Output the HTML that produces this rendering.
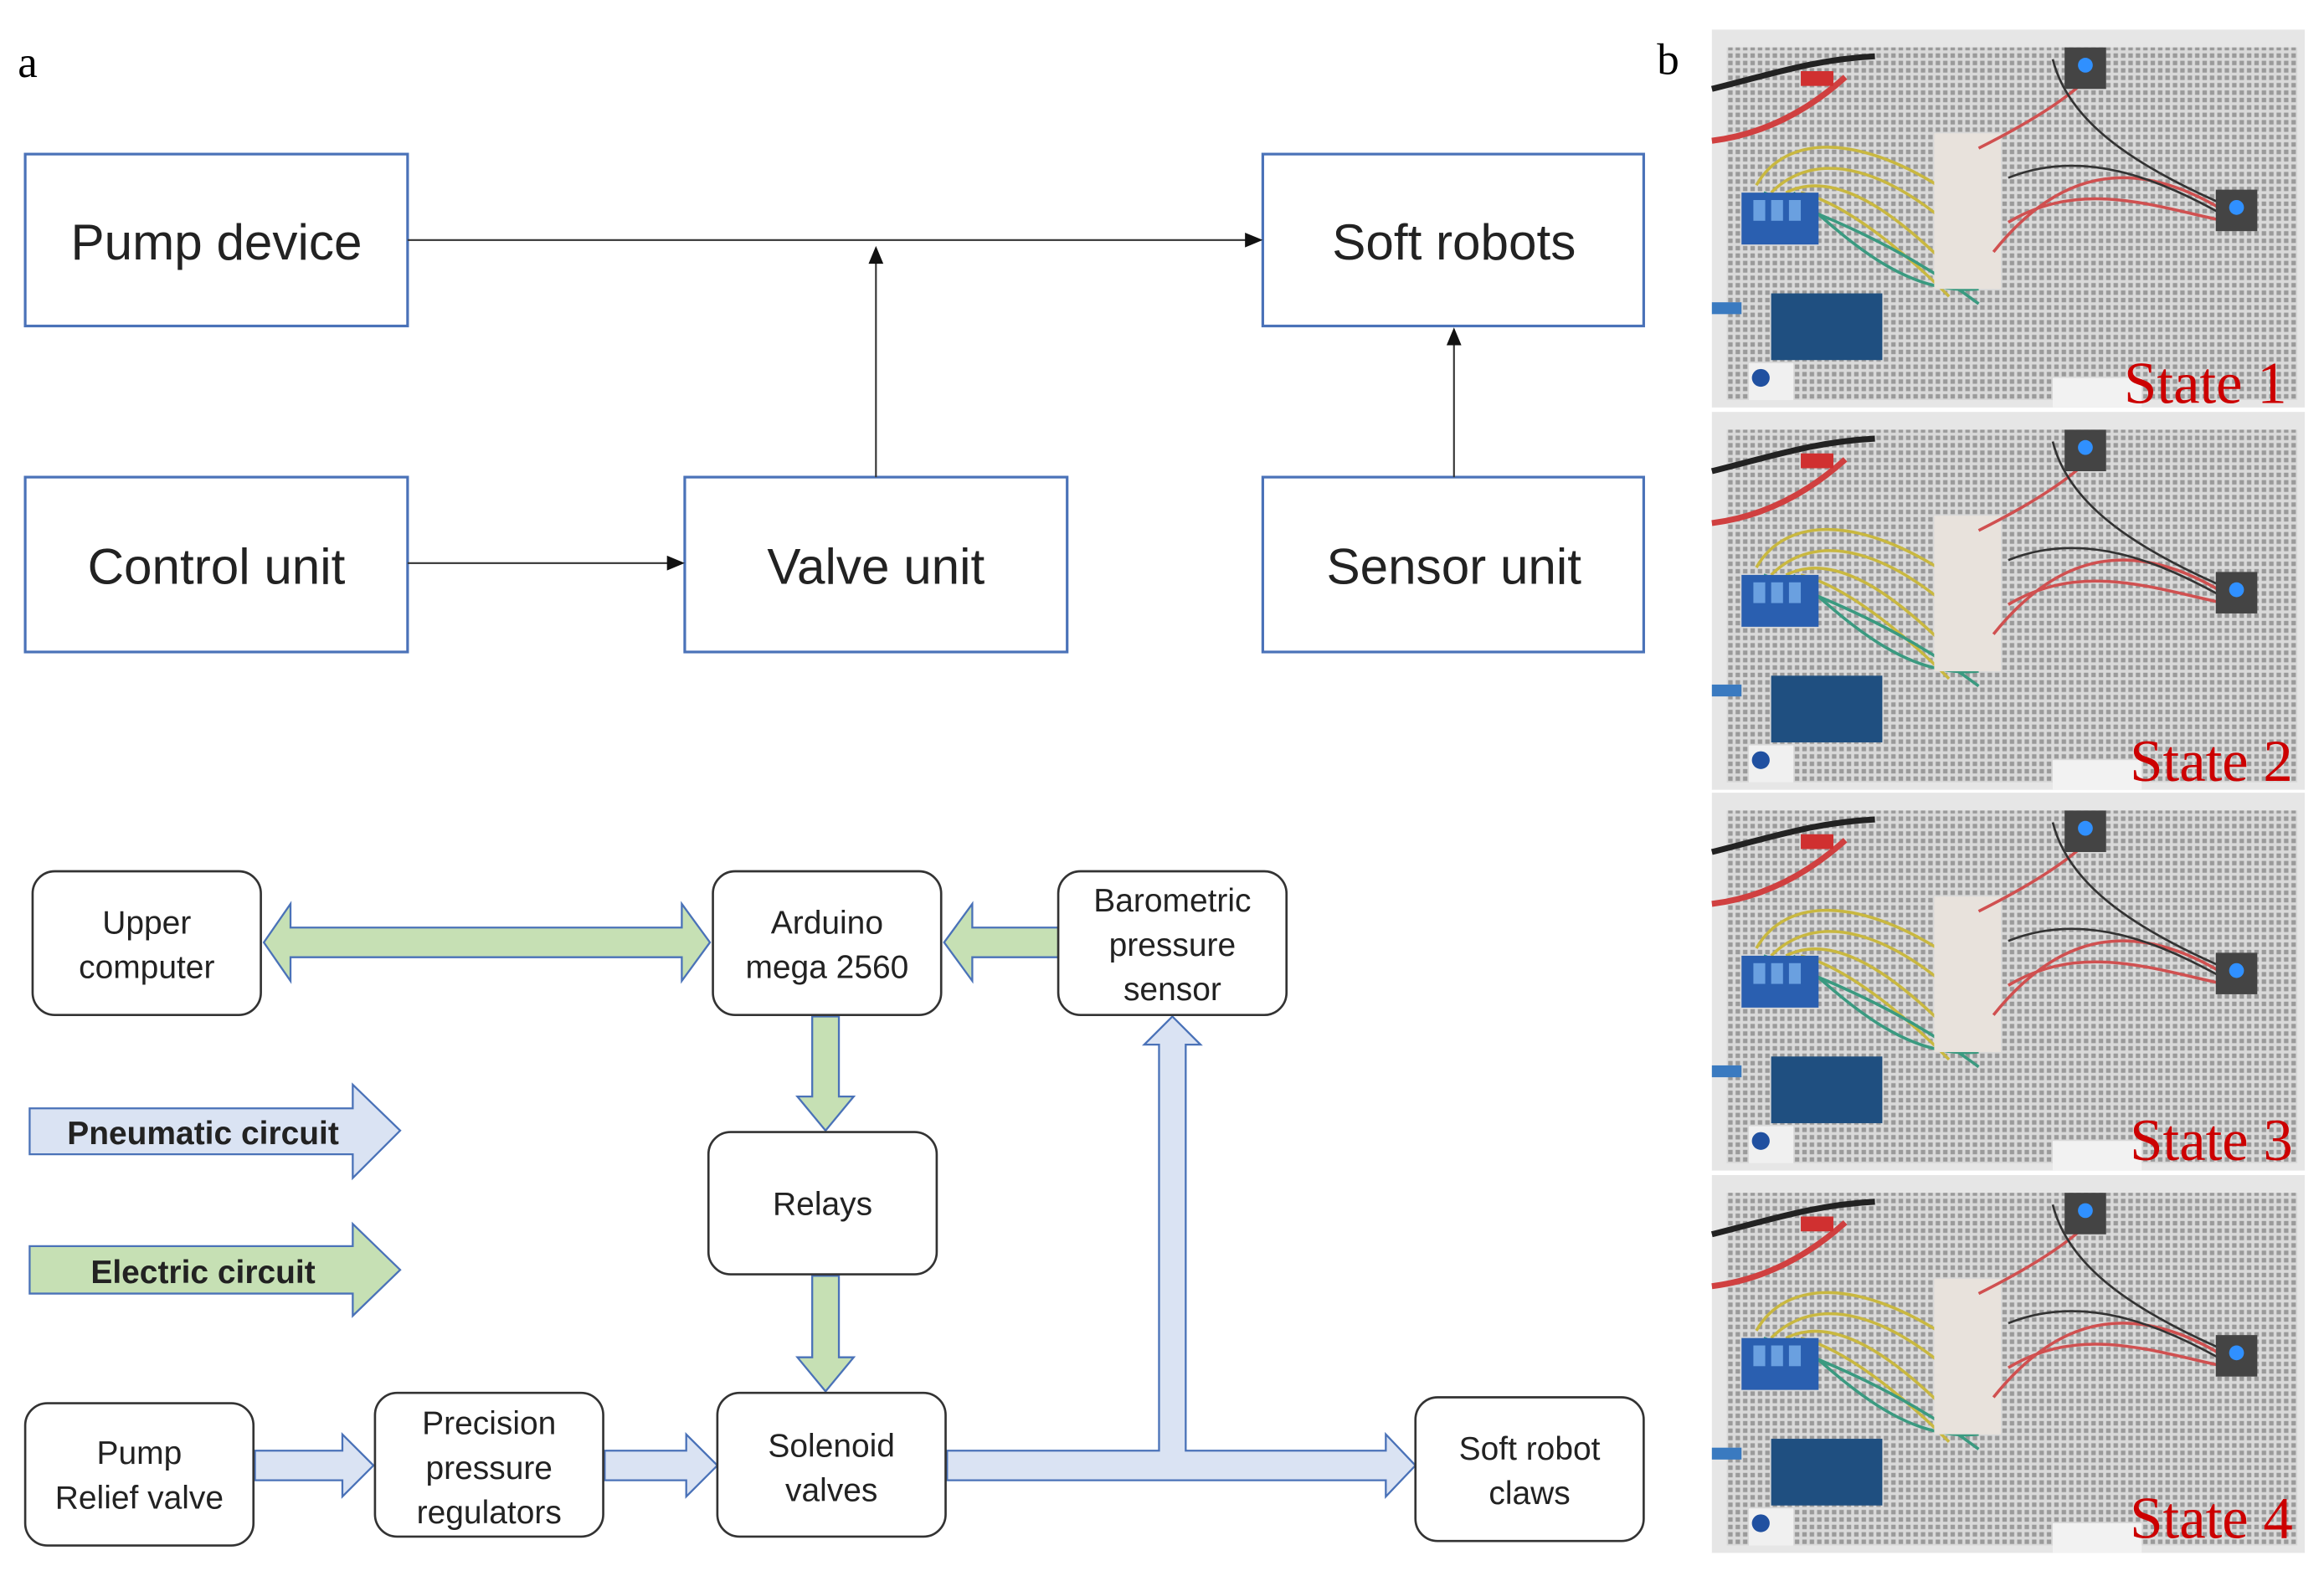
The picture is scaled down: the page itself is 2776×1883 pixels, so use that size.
<!DOCTYPE html>
<html><head><meta charset="utf-8"><style>
html,body{margin:0;padding:0;background:#fff;}
svg{display:block;}
.t{font-family:"Liberation Sans",sans-serif;fill:#222;text-anchor:middle;}
.s{font-family:"Liberation Serif",serif;}
</style></head><body>
<svg width="2776" height="1883" viewBox="0 0 1568 1063.6" xmlns="http://www.w3.org/2000/svg">
<defs>
<pattern id="peg" width="5" height="5" patternUnits="userSpaceOnUse">
<rect width="5" height="5" fill="#d9d9d9"/><rect x="1" y="1" width="3" height="3" fill="#9a9a9a"/>
</pattern>
<g id="photo">
<rect x="0" y="0" width="400" height="255" fill="#e6e6e6"/>
<rect x="10" y="12" width="385" height="238" fill="url(#peg)"/>
<path d="M0 40 C40 30 70 20 110 18" stroke="#222" stroke-width="4" fill="none"/>
<path d="M0 75 C40 70 70 50 90 32" stroke="#d04040" stroke-width="4" fill="none"/>
<rect x="60" y="28" width="22" height="10" fill="#d03030"/>
<path d="M30 105 C50 70 100 70 160 110 M40 110 C70 80 120 90 180 150 M50 110 C90 90 140 140 170 170 M60 110 C100 120 150 170 160 180" stroke="#c9b840" stroke-width="2" fill="none"/>
<path d="M35 110 C60 120 120 140 180 185 M55 110 C90 140 130 180 180 175" stroke="#3a9a80" stroke-width="2" fill="none"/>
<rect x="150" y="70" width="45" height="105" fill="#e8e2dc"/>
<path d="M180 80 C220 60 250 40 260 25 M190 150 C230 100 280 80 350 125 M200 130 C250 100 300 120 350 130" stroke="#d05050" stroke-width="2" fill="none"/>
<path d="M230 20 C240 60 280 90 350 120 M200 100 C250 80 300 100 345 125" stroke="#333" stroke-width="1.5" fill="none"/>
<rect x="20" y="110" width="52" height="35" fill="#2a5fb0"/>
<rect x="28" y="115" width="8" height="14" fill="#6aa0e0"/><rect x="40" y="115" width="8" height="14" fill="#6aa0e0"/><rect x="52" y="115" width="8" height="14" fill="#6aa0e0"/>
<rect x="40" y="178" width="75" height="45" fill="#1f4f80"/>
<rect x="0" y="184" width="20" height="8" fill="#3a7ac0"/>
<rect x="25" y="225" width="30" height="25" fill="#f0f0f0"/>
<circle cx="33" cy="235" r="6" fill="#2050a0"/>
<rect x="238" y="12" width="28" height="28" fill="#444"/><circle cx="252" cy="24" r="5" fill="#3090ff"/>
<rect x="340" y="108" width="28" height="28" fill="#444"/><circle cx="354" cy="120" r="5" fill="#3090ff"/>
<rect x="230" y="235" width="60" height="20" fill="#f2f2f2"/>
</g>
</defs>
<rect width="1568" height="1064" fill="#fff"/>
<text x="12" y="52" class="s" font-size="30" fill="#000">a</text>
<text x="1118" y="50" class="s" font-size="30" fill="#000">b</text>

<!-- top diagram -->
<g fill="#fff" stroke="#4a72b8" stroke-width="1.8">
<rect x="17" y="104" width="258" height="116"/>
<rect x="852" y="104" width="257" height="116"/>
<rect x="17" y="322" width="258" height="118"/>
<rect x="462" y="322" width="258" height="118"/>
<rect x="852" y="322" width="257" height="118"/>
</g>
<g class="t" font-size="34">
<text x="146" y="175">Pump device</text>
<text x="981" y="175">Soft robots</text>
<text x="146" y="394">Control unit</text>
<text x="591" y="394">Valve unit</text>
<text x="981" y="394">Sensor unit</text>
</g>
<g stroke="#333" stroke-width="1.2" fill="none">
<line x1="275" y1="162" x2="842" y2="162"/>
<line x1="591" y1="322" x2="591" y2="176"/>
<line x1="275" y1="380" x2="452" y2="380"/>
<line x1="981" y1="322" x2="981" y2="232"/>
</g>
<g fill="#111">
<polygon points="852,162 840,157 840,167"/>
<polygon points="591,166 586,178 596,178"/>
<polygon points="462,380 450,375 450,385"/>
<polygon points="981,221 976,233 986,233"/>
</g>

<!-- bottom arrows -->
<g stroke="#4a72b8" stroke-width="1.3">
<polygon fill="#c6e0b4" points="178,636 196,610 196,626 460,626 460,610 479,636 460,662 460,646 196,646 196,662"/>
<polygon fill="#c6e0b4" points="637,636 656,610 656,626 714,626 714,646 656,646 656,662"/>
<polygon fill="#c6e0b4" points="548,686 566,686 566,740 576,740 557,763 538,740 548,740"/>
<polygon fill="#c6e0b4" points="548,861 566,861 566,916 576,916 557,939 538,916 548,916"/>
<polygon fill="#dae3f3" points="20,748 238,748 238,732 270,763 238,795 238,779 20,779"/>
<polygon fill="#c6e0b4" points="20,841 238,841 238,826 270,857 238,888 238,873 20,873"/>
<polygon fill="#dae3f3" points="172,979 231,979 231,968 252,989 231,1010 231,999 172,999"/>
<polygon fill="#dae3f3" points="408,979 463,979 463,968 484,989 463,1010 463,999 408,999"/>
<polygon fill="#dae3f3" points="639,979 782,979 782,705 772,705 791,686 810,705 800,705 800,979 935,979 935,968 955,989 935,1010 935,999 639,999"/>
</g>
<g fill="#fff" stroke="#333" stroke-width="1.5">
<rect x="22" y="588" width="154" height="97" rx="15"/>
<rect x="481" y="588" width="154" height="97" rx="15"/>
<rect x="714" y="588" width="154" height="97" rx="15"/>
<rect x="478" y="764" width="154" height="96" rx="15"/>
<rect x="17" y="947" width="154" height="96" rx="15"/>
<rect x="253" y="940" width="154" height="97" rx="15"/>
<rect x="484" y="940" width="154" height="97" rx="15"/>
<rect x="955" y="943" width="154" height="97" rx="15"/>
</g>
<g class="t" font-size="22" fill="#333">
<text x="99" y="630">Upper</text><text x="99" y="660">computer</text>
<text x="558" y="630">Arduino</text><text x="558" y="660">mega 2560</text>
<text x="791" y="615">Barometric</text><text x="791" y="645">pressure</text><text x="791" y="675">sensor</text>
<text x="555" y="820">Relays</text>
<text x="94" y="988">Pump</text><text x="94" y="1018">Relief valve</text>
<text x="330" y="968">Precision</text><text x="330" y="998">pressure</text><text x="330" y="1028">regulators</text>
<text x="561" y="983">Solenoid</text><text x="561" y="1013">valves</text>
<text x="1032" y="985">Soft robot</text><text x="1032" y="1015">claws</text>
</g>
<g class="t" font-size="22" font-weight="bold" fill="#111">
<text x="137" y="772">Pneumatic circuit</text>
<text x="137" y="866">Electric circuit</text>
</g>

<!-- photos -->
<use href="#photo" x="1155" y="20"/>
<use href="#photo" x="1155" y="278"/>
<use href="#photo" x="1155" y="535"/>
<use href="#photo" x="1155" y="793"/>
<g class="s" font-size="40" fill="#cc0000" text-anchor="end">
<text x="1543" y="272">State 1</text>
<text x="1547" y="527">State 2</text>
<text x="1547" y="783">State 3</text>
<text x="1547" y="1038">State 4</text>
</g>
</svg>
</body></html>
